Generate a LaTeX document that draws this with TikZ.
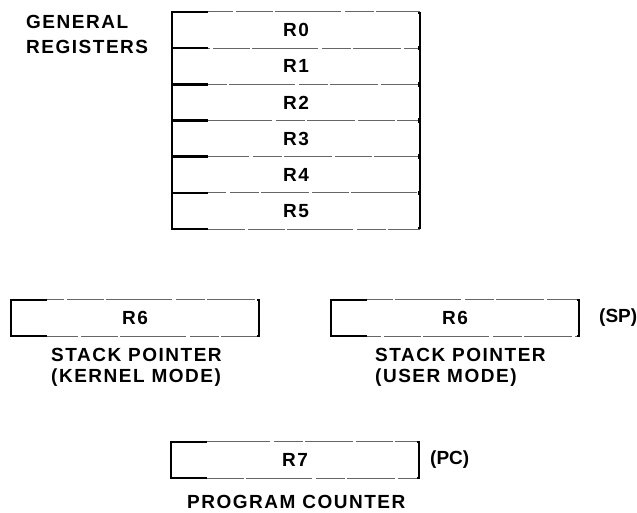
\documentclass[tikz,border=0pt]{standalone}
\usepackage{fontspec}
\setmainfont{Liberation Sans}[LetterSpace=8]
\newfontfamily\tightfont{Liberation Sans}
\usetikzlibrary{positioning}
\begin{document}
\begin{tikzpicture}[x=1pt,y=-1pt,
  font=\bfseries\fontsize{19}{22}\selectfont,
  reg/.style={minimum width=248pt,minimum height=36.2pt,inner sep=0pt,outer sep=0pt},
  brk/.style={line width=2.7pt},
  rule/.style={line width=1pt,black!60,dash pattern=on 48pt off 3pt on 37pt off 2pt on 66pt off 4pt on 29pt off 2pt},
  lbl/.style={inner sep=0pt,anchor=base west},
  tag/.style={inner sep=0pt,font=\tightfont\bfseries\fontsize{19}{22}\selectfont}]
\useasboundingbox (0,0) rectangle (637,512);

% general registers R0-R5
\node[reg] (r0) at (296,30) {R0};
\node[reg,below=0pt of r0] (r1) {R1};
\node[reg,below=0pt of r1] (r2) {R2};
\node[reg,below=0pt of r2] (r3) {R3};
\node[reg,below=0pt of r3] (r4) {R4};
\node[reg,below=0pt of r4] (r5) {R5};

\draw[brk] ([xshift=36pt]r0.north west) -- (r0.north west) -- (r5.south west) -- ([xshift=36pt]r5.south west);
\foreach \r in {r0,r1,r2,r3,r4}{
  \draw[brk] (\r.south west) -- ([xshift=36pt]\r.south west);
}
\foreach \r [count=\i] in {r0,r1,r2,r3,r4,r5}{
  \draw[rule,dash phase=\i*23pt] ([xshift=36pt]\r.north west) -- (\r.north east);
  \draw[brk] ([xshift=-2pt,yshift=-1pt]\r.north east) -- ([yshift=-1pt]\r.north east)
     -- ([yshift=1pt]\r.south east) -- ([xshift=-2pt,yshift=1pt]\r.south east);
}
\draw[rule,dash phase=11pt] ([xshift=36pt]r5.south west) -- (r5.south east);

\node[lbl] (gen) at (26,28) {GENERAL};
\node[lbl] (genb) at (26,53) {REGISTERS};

% single registers
\node[reg] (sk) at (135,318) {R6};
\node[reg] (su) at (455,318) {R6};
\node[reg] (pc) at (295,460) {R7};

\foreach \r [count=\i] in {sk,su,pc}{
  \draw[brk] ([xshift=36pt]\r.north west) -- (\r.north west) -- (\r.south west) -- ([xshift=36pt]\r.south west);
  \draw[rule,dash phase=\i*31pt] ([xshift=36pt]\r.north west) -- (\r.north east);
  \draw[rule,dash phase=\i*17pt] ([xshift=36pt]\r.south west) -- (\r.south east);
  \draw[brk] ([xshift=-2pt]\r.north east) -- (\r.north east) -- (\r.south east) -- ([xshift=-2pt]\r.south east);
}

\node[lbl] (skl1) at (51,361) {STACK POINTER};
\node[lbl] (skl2) at (51,382) {(KERNEL MODE)};
\node[lbl] (sul1) at (375,361) {STACK POINTER};
\node[lbl] (sul2) at (375,382) {(USER MODE)};
\node[tag,anchor=west] (sp) at (599,318) {(SP)};
\node[tag,anchor=west] (pcn) at (430,460) {(PC)};
\node[lbl] (pcl) at (187,508) {PROGRAM COUNTER};
\end{tikzpicture}
\end{document}
